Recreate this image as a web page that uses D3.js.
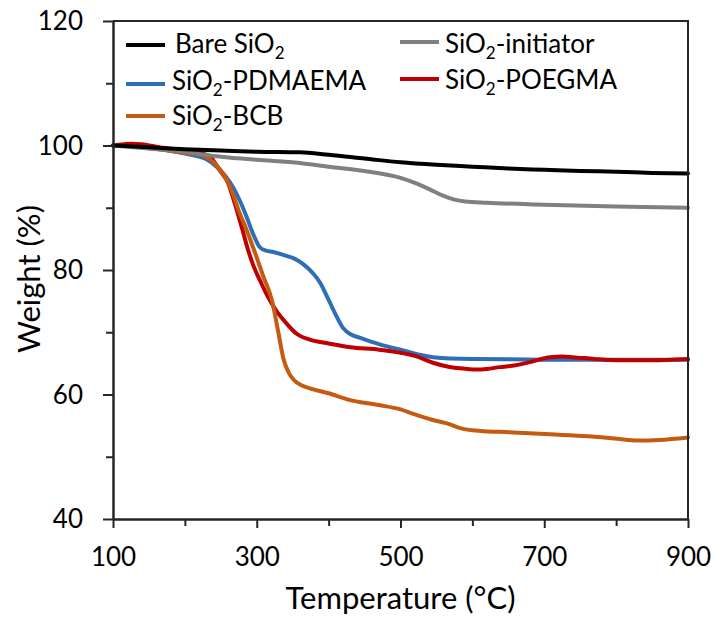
<!DOCTYPE html>
<html>
<head>
<meta charset="utf-8">
<script src="https://cdn.jsdelivr.net/npm/d3@7/dist/d3.min.js"></script>
<style>
  body { margin: 0; background: #fff; }
  svg { display: block; }
  text { font-family: Lato, "Open Sans", sans-serif; fill: #000; }
</style>
</head>
<body>
<svg id="chart" width="714" height="622"></svg>
<script>
// Thermogravimetric curves: [temperature (°C), weight (%)]
const bareSiO2 = [[100,100],[150,99.7],[200,99.4],[250,99.2],[300,99.0],[360,98.9],[400,98.5],[450,97.9],[500,97.3],[550,96.9],[600,96.6],[650,96.3],[700,96.1],[750,95.9],[800,95.8],[850,95.6],[900,95.5]];
const sio2Initiator = [[100,100],[150,99.5],[200,99.0],[221,98.6],[250,98.2],[300,97.7],[360,97.2],[400,96.6],[450,95.9],[500,94.8],[520,94.0],[540,93.0],[560,91.9],[575,91.3],[590,91.0],[620,90.8],[700,90.5],[800,90.2],[900,90.0]];
const sio2Pdmaema = [[100,100],[150,99.6],[200,98.7],[230,97.8],[245,96.5],[257,95.0],[267,93.3],[277,91.0],[286,88.5],[296,85.5],[304,83.7],[313,83.1],[323,82.9],[340,82.3],[351,81.9],[365,80.9],[378,79.5],[388,78.0],[398,75.7],[410,72.8],[420,70.7],[432,69.6],[444,69.1],[470,68.1],[500,67.2],[545,66.0],[600,65.7],[700,65.6],[800,65.6],[900,65.6]];
const sio2Poegma = [[100,100],[115,100.2],[125,100.3],[140,100.2],[160,99.8],[190,99.3],[221,98.8],[235,98.2],[242,97.2],[250,95.8],[260,94.0],[270,90.5],[280,86.5],[288,83.2],[296,80.5],[305,78.2],[315,75.8],[328,73.3],[340,71.6],[355,69.8],[374,68.8],[400,68.2],[430,67.6],[470,67.2],[500,66.7],[520,66.2],[545,65.1],[565,64.5],[583,64.2],[606,64.0],[620,64.1],[638,64.4],[660,64.7],[680,65.2],[708,66.0],[725,66.1],[740,66.0],[770,65.7],[801,65.5],[850,65.5],[900,65.7]];
const sio2Bcb = [[100,100],[120,99.9],[150,99.6],[200,98.8],[221,98.5],[240,97.3],[249,96.1],[258,94.5],[266,92.5],[275,89.5],[286,86.4],[300,82.0],[309,79.0],[321,75.2],[330,70.0],[337,65.8],[345,63.4],[351,62.4],[362,61.5],[374,61.0],[400,60.2],[430,59.1],[470,58.3],[500,57.6],[520,56.8],[545,55.9],[569,55.2],[583,54.6],[615,54.1],[638,54.0],[708,53.6],[760,53.3],[801,52.9],[829,52.6],[860,52.7],[900,53.1]];

const seriesNames = ["Bare SiO2", "SiO2-initiator", "SiO2-PDMAEMA", "SiO2-POEGMA", "SiO2-BCB"];
const seriesColors = ["#000000", "#808080", "#2E6EB5", "#C00000", "#C55A11"];
const seriesData = [bareSiO2, sio2Initiator, sio2Pdmaema, sio2Poegma, sio2Bcb];

const xMajorTicks = [100, 300, 500, 700, 900];
const xMinorTicks = [200, 400, 600, 800];
const yMajorTicks = [40, 60, 80, 100, 120];
const yMinorTicks = [50, 70, 90, 110];

const xTitle = "Temperature (°C)";
const yTitle = "Weight (%)";

const svg = d3.select("#chart");
const plot = { left: 113, right: 688, top: 21, bottom: 519 };
const axisColor = "#262626";

const x = d3.scaleLinear().domain([100, 900]).range([plot.left, plot.right]);
const y = d3.scaleLinear().domain([40, 120]).range([plot.bottom, plot.top]);

// Curves (black on top, red over blue, orange over red)
const line = d3.line().x(d => x(d[0])).y(d => y(d[1])).curve(d3.curveMonotoneX);
const drawOrder = [2, 3, 4, 1, 0];
svg.append("g").attr("class", "curves")
  .selectAll("path")
  .data(drawOrder)
  .join("path")
  .attr("d", i => line(seriesData[i]))
  .attr("fill", "none")
  .attr("stroke", i => seriesColors[i])
  .attr("stroke-width", 4)
  .attr("stroke-linejoin", "round")
  .attr("stroke-linecap", "round");

// Frame: top and right edges
svg.append("path")
  .attr("d", `M${plot.left},${plot.top}H${plot.right}V${plot.bottom}`)
  .attr("fill", "none")
  .attr("stroke", axisColor)
  .attr("stroke-width", 2);

// X axis
const xMinor = svg.append("g").attr("transform", `translate(0,${plot.bottom})`)
  .call(d3.axisBottom(x).tickValues(xMinorTicks).tickSize(7).tickSizeOuter(0).tickFormat(""));
const xMajor = svg.append("g").attr("transform", `translate(0,${plot.bottom})`)
  .call(d3.axisBottom(x).tickValues(xMajorTicks).tickSize(9).tickSizeOuter(0).tickFormat(d3.format("d")));
xMajor.selectAll("text").attr("y", 47).attr("dy", 0).style("font-size", "26px");

// Y axis
const yMinor = svg.append("g").attr("transform", `translate(${plot.left},0)`)
  .call(d3.axisLeft(y).tickValues(yMinorTicks).tickSize(7).tickSizeOuter(0).tickFormat(""));
const yMajor = svg.append("g").attr("transform", `translate(${plot.left},0)`)
  .call(d3.axisLeft(y).tickValues(yMajorTicks).tickSize(10).tickSizeOuter(0).tickFormat(d3.format("d")));
yMajor.selectAll("text").attr("x", -30).attr("dy", "0.33em").style("font-size", "26px");

[xMinor, xMajor, yMinor, yMajor].forEach(g => {
  g.selectAll("path.domain").attr("stroke", axisColor).attr("stroke-width", 2);
  g.selectAll(".tick line").attr("stroke", axisColor).attr("stroke-width", 2);
  g.selectAll("text").attr("fill", "#000").style("font-family", "Lato, sans-serif");
});

// Axis titles
svg.append("text")
  .attr("x", (plot.left + plot.right) / 2)
  .attr("y", 609)
  .attr("text-anchor", "middle")
  .style("font-size", "31px")
  .text(xTitle);

svg.append("text")
  .attr("transform", `translate(40,${279}) rotate(-90)`)
  .attr("text-anchor", "middle")
  .style("font-size", "31px")
  .text(yTitle);

// Legend: two columns, entries laid out row-wise
const legendPos = [
  { lx: 126, ly: 45, tx: 175, ty: 53 },
  { lx: 400, ly: 42, tx: 445, ty: 53 },
  { lx: 126, ly: 84, tx: 172, ty: 90 },
  { lx: 400, ly: 79, tx: 445, ty: 89 },
  { lx: 126, ly: 116, tx: 172, ty: 125 }
];
const legend = svg.append("g").attr("class", "legend");
seriesNames.forEach((name, i) => {
  const p = legendPos[i];
  legend.append("line")
    .attr("x1", p.lx).attr("x2", p.lx + 39)
    .attr("y1", p.ly).attr("y2", p.ly)
    .attr("stroke", seriesColors[i]).attr("stroke-width", 4);
  const t = legend.append("text").attr("x", p.tx).attr("y", p.ty).style("font-size", "26px");
  const k = name.indexOf("2");
  t.append("tspan").text(name.slice(0, k));
  t.append("tspan").attr("dy", 6).style("font-size", "17px").text("2");
  t.append("tspan").attr("dy", -6).text(name.slice(k + 1));
});
</script>
</body>
</html>
